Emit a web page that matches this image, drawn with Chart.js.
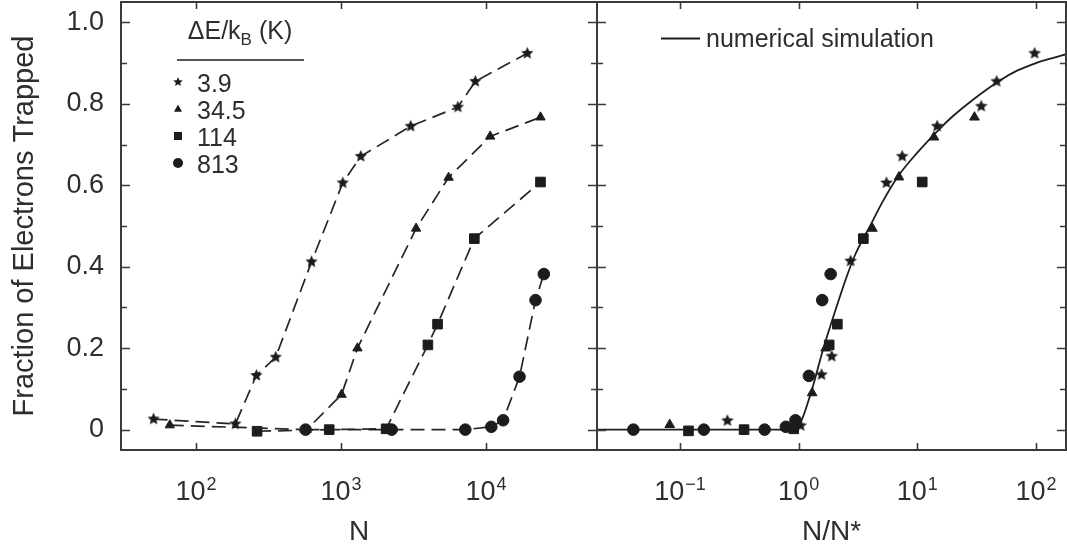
<!DOCTYPE html>
<html><head><meta charset="utf-8">
<script src="https://cdn.jsdelivr.net/npm/chart.js@4.4.1/dist/chart.umd.min.js"></script>
<style>
html,body{margin:0;padding:0;background:#fff;}
#wrap{position:relative;width:1067px;height:550px;overflow:hidden;background:#fff;}
#c1{position:absolute;left:0;top:0;width:600px;height:550px;}
#c2{position:absolute;left:590px;top:0;width:477px;height:550px;}
</style></head><body>
<div id="wrap"><canvas id="c1" width="600" height="550"></canvas><canvas id="c2" width="477" height="550"></canvas></div>
<script>
// ---------- data ----------
const legendTitle = ['ΔE/k', 'B', ' (K)'];
const seriesLabels = ['3.9', '34.5', '114', '813'];
const simLabel = 'numerical simulation';
const yTickValues = [0, 0.2, 0.4, 0.6, 0.8, 1.0];
const yTickLabels = ['0', '0.2', '0.4', '0.6', '0.8', '1.0'];
const leftDecades = [2, 3, 4];
const rightDecades = [-1, 0, 1, 2];
const leftTitle = 'N';
const rightTitle = 'N/N*';
const yTitle = 'Fraction of Electrons Trapped';

// left panel: N vs fraction
const nStar = [51, 187, 261, 355, 627, 1030, 1370, 3030, 6410, 8450, 19300];
const fStar = [0.026, 0.014, 0.133, 0.178, 0.412, 0.606, 0.671, 0.745, 0.792, 0.855, 0.924];
const nTri = [66, 580, 1010, 1300, 3300, 5530, 10700, 23800];
const fTri = [0.011, 0.0, 0.086, 0.20, 0.494, 0.619, 0.72, 0.767];
const nSq = [264, 830, 2050, 3980, 4640, 8320, 23800];
const fSq = [-0.004, 0.0, 0.002, 0.208, 0.259, 0.469, 0.608];
const nCirc = [570, 2240, 7210, 10900, 13150, 17060, 22000, 25100];
const fCirc = [0.0, 0.0, 0.0, 0.007, 0.023, 0.13, 0.318, 0.382];

// right panel: N/N* vs fraction
const rStarX = [0.251, 1.04, 1.56, 1.90, 2.74, 5.5, 7.46, 14.7, 34.6, 46.6, 97.3];
const rStarY = [0.022, 0.01, 0.135, 0.18, 0.414, 0.606, 0.671, 0.745, 0.794, 0.855, 0.924];
const rTriX = [0.082, 0.777, 1.30, 1.69, 4.18, 7.0, 13.8, 30.3];
const rTriY = [0.012, 0.005, 0.09, 0.20, 0.494, 0.62, 0.718, 0.767];
const rSqX = [0.118, 0.347, 0.91, 1.81, 2.12, 3.51, 11.0];
const rSqY = [-0.003, 0.0, 0.002, 0.208, 0.259, 0.469, 0.608];
const rCircX = [0.0405, 0.159, 0.517, 0.78, 0.94, 1.22, 1.58, 1.86];
const rCircY = [0.0, 0.0, 0.0, 0.007, 0.023, 0.132, 0.318, 0.382];
const simX = [0.02, 0.95, 1.05, 1.3, 1.6, 2.0, 2.5, 3.0, 4.0, 5.0, 7.0, 10, 15, 20, 30, 50, 70, 100, 140, 180];
const simY = [0, 0, 0.02, 0.10, 0.195, 0.285, 0.37, 0.43, 0.50, 0.555, 0.625, 0.68, 0.735, 0.77, 0.812, 0.858, 0.882, 0.90, 0.913, 0.922];

// ---------- style ----------
const FF = '"Liberation Sans", Arial, Helvetica, sans-serif';
const TXT = '#2e2e2e';
const INK = '#1c1c1c';
const FRAME = '#3a3a3a';

function starCanvas(R) {
  const s = Math.ceil(R * 2 + 2);
  const c = document.createElement('canvas');
  c.width = s; c.height = s;
  const g = c.getContext('2d');
  g.fillStyle = INK;
  g.beginPath();
  for (let i = 0; i < 10; i++) {
    const r = i % 2 ? R * 0.46 : R;
    const a = -Math.PI / 2 + i * Math.PI / 5;
    g.lineTo(s / 2 + r * Math.cos(a), s / 2 + r * Math.sin(a));
  }
  g.closePath(); g.fill();
  return c;
}
const starL = starCanvas(6.4);
const starR = starCanvas(6.6);
const starLeg = starCanvas(5);

function pts(xs, ys) { return xs.map((x, i) => ({x: x, y: ys[i]})); }

function noPad(s) { s.paddingTop = 0; s.paddingBottom = 0; s.paddingLeft = 0; s.paddingRight = 0; }

function frameTicksPlugin(decades) {
  return {
    id: 'frameTicks',
    afterDatasetsDraw(chart) {
      const {ctx, chartArea: a, scales} = chart;
      const y = scales.y, x = scales.x;
      ctx.save();
      ctx.strokeStyle = FRAME;
      ctx.lineWidth = 1.6;
      ctx.beginPath();
      for (let k = 0; k <= 10; k++) {
        const v = k / 10;
        const py = Math.round(y.getPixelForValue(v)) + 0.5;
        const len = k % 2 === 0 ? 9 : 6;
        ctx.moveTo(a.left, py); ctx.lineTo(a.left + len, py);
        ctx.moveTo(a.right, py); ctx.lineTo(a.right - len, py);
      }
      decades.forEach(d => {
        const px = Math.round(x.getPixelForValue(Math.pow(10, d))) + 0.5;
        ctx.moveTo(px, a.bottom); ctx.lineTo(px, a.bottom - 7);
        ctx.moveTo(px, a.top); ctx.lineTo(px, a.top + 7);
      });
      ctx.stroke();
      ctx.lineWidth = 2;
      ctx.strokeRect(a.left, a.top, a.right - a.left, a.bottom - a.top);
      ctx.fillStyle = TXT;
      ctx.textBaseline = 'alphabetic';
      ctx.textAlign = 'left';
      decades.forEach(d => {
        const px = x.getPixelForValue(Math.pow(10, d));
        const exp = d < 0 ? '\u2212' + Math.abs(d) : String(d);
        ctx.font = '27px ' + FF;
        const w1 = ctx.measureText('10').width;
        ctx.font = '18px ' + FF;
        const w2 = ctx.measureText(exp).width;
        const start = px - (w1 + w2 + 1) / 2;
        ctx.font = '27px ' + FF;
        ctx.fillText('10', start, 500);
        ctx.font = '18px ' + FF;
        ctx.fillText(exp, start + w1 + 1, 490);
      });
      ctx.restore();
    }
  };
}

const leftLegendPlugin = {
  id: 'leftLegend',
  afterDraw(chart) {
    const ctx = chart.ctx;
    ctx.save();
    ctx.fillStyle = TXT;
    ctx.textBaseline = 'alphabetic';
    ctx.textAlign = 'left';
    ctx.font = '25px ' + FF;
    const w1 = ctx.measureText(legendTitle[0]).width;
    const w3 = ctx.measureText(legendTitle[2]).width;
    ctx.font = '17px ' + FF;
    const w2 = ctx.measureText(legendTitle[1]).width;
    let sx = 240 - (w1 + w2 + w3) / 2;
    ctx.font = '25px ' + FF;
    ctx.fillText(legendTitle[0], sx, 39);
    ctx.font = '17px ' + FF;
    ctx.fillText(legendTitle[1], sx + w1, 45);
    ctx.font = '25px ' + FF;
    ctx.fillText(legendTitle[2], sx + w1 + w2, 39);
    ctx.strokeStyle = INK;
    ctx.lineWidth = 1.6;
    ctx.beginPath(); ctx.moveTo(177, 60); ctx.lineTo(304, 60); ctx.stroke();
    const ys = [82, 109, 136, 163];
    const mx = 178;
    ctx.textBaseline = 'middle';
    ctx.font = '25px ' + FF;
    seriesLabels.forEach((lab, i) => {
      ctx.fillText(lab, 197, ys[i] + 3);
    });
    ctx.fillStyle = INK;
    ctx.drawImage(starLeg, mx - starLeg.width / 2, ys[0] - starLeg.height / 2);
    ctx.beginPath();
    ctx.moveTo(mx, ys[1] - 4.5); ctx.lineTo(mx + 4, ys[1] + 2.8); ctx.lineTo(mx - 4, ys[1] + 2.8); ctx.closePath(); ctx.fill();
    ctx.fillRect(mx - 4, ys[2] - 4, 8, 8);
    ctx.beginPath(); ctx.arc(mx, ys[3], 5, 0, Math.PI * 2); ctx.fill();
    ctx.restore();
  }
};

const rightLegendPlugin = {
  id: 'rightLegend',
  afterDraw(chart) {
    const ctx = chart.ctx;
    const off = 590;
    ctx.save();
    ctx.strokeStyle = INK;
    ctx.lineWidth = 1.8;
    ctx.beginPath(); ctx.moveTo(661 - off, 38.5); ctx.lineTo(700 - off, 38.5); ctx.stroke();
    ctx.fillStyle = TXT;
    ctx.font = '25px ' + FF;
    ctx.textBaseline = 'alphabetic';
    ctx.fillText(simLabel, 706 - off, 47);
    ctx.restore();
  }
};

const common = {
  responsive: false,
  animation: false,
  devicePixelRatio: 1,
  plugins: {legend: {display: false}, tooltip: {enabled: false}},
  elements: {line: {tension: 0}}
};

function lineDs(xs, ys, style, radius, img) {
  return {
    data: pts(xs, ys), showLine: true,
    borderColor: '#262626', borderWidth: 1.7, borderDash: [14, 7],
    pointStyle: img || style, pointRadius: radius,
    pointBackgroundColor: INK, pointBorderColor: INK, pointBorderWidth: 1
  };
}

new Chart(document.getElementById('c1'), {
  type: 'scatter',
  data: {datasets: [
    lineDs(nStar, fStar, 'star', 6, starL),
    lineDs(nTri, fTri, 'triangle', 5.4),
    lineDs(nSq, fSq, 'rect', 6.8),
    lineDs(nCirc, fCirc, 'circle', 5.8)
  ]},
  options: Object.assign({}, common, {
    layout: {autoPadding: false, padding: {left: 0, right: 3, top: 2, bottom: 0}},
    scales: {
      x: {
        type: 'logarithmic', min: 30.4, max: 58400,
        grid: {display: false}, border: {display: false},
        ticks: {display: false},
        title: {display: true, text: leftTitle, color: TXT, font: {family: FF, size: 28, lineHeight: 1}, padding: {top: 0, bottom: 4}},
        afterFit(s) { s.height = 100; noPad(s); }
      },
      y: {
        type: 'linear', min: -0.05, max: 1.05,
        grid: {display: false, drawTicks: false}, border: {display: false},
        afterBuildTicks(s) { s.ticks = yTickValues.map(v => ({value: v})); },
        ticks: {
          color: TXT, font: {family: FF, size: 27}, padding: 17,
          callback(v) { const i = yTickValues.indexOf(v); return i >= 0 ? yTickLabels[i] : ''; }
        },
        title: {display: true, text: yTitle, color: TXT, font: {family: FF, size: 29, lineHeight: 1}, padding: {top: 10, bottom: 0}},
        afterFit(s) { s.width = 121; noPad(s); }
      }
    }
  }),
  plugins: [frameTicksPlugin(leftDecades), leftLegendPlugin]
});

function ptDs(xs, ys, style, radius, img) {
  return {
    data: pts(xs, ys), showLine: false,
    pointStyle: img || style, pointRadius: radius,
    pointBackgroundColor: INK, pointBorderColor: INK, pointBorderWidth: 1, order: 1
  };
}

new Chart(document.getElementById('c2'), {
  type: 'scatter',
  data: {datasets: [
    ptDs(rStarX, rStarY, 'star', 6, starR),
    ptDs(rTriX, rTriY, 'triangle', 5.6),
    ptDs(rSqX, rSqY, 'rect', 6.8),
    ptDs(rCircX, rCircY, 'circle', 5.8),
    {data: pts(simX, simY), showLine: true, pointRadius: 0, borderColor: '#1e1e1e', borderWidth: 1.8,
     cubicInterpolationMode: 'monotone', order: 10}
  ]},
  options: Object.assign({}, common, {
    layout: {autoPadding: false, padding: {left: 7, right: 1, top: 2, bottom: 0}},
    scales: {
      x: {
        type: 'logarithmic', min: 0.02, max: 179,
        grid: {display: false}, border: {display: false},
        ticks: {display: false},
        title: {display: true, text: rightTitle, color: TXT, font: {family: FF, size: 28, lineHeight: 1}, padding: {top: 0, bottom: 4}},
        afterFit(s) { s.height = 100; noPad(s); }
      },
      y: {
        type: 'linear', min: -0.05, max: 1.05,
        grid: {display: false, drawTicks: false}, border: {display: false},
        ticks: {display: false},
        afterFit(s) { s.width = 0; noPad(s); }
      }
    }
  }),
  plugins: [frameTicksPlugin(rightDecades), rightLegendPlugin]
});
</script>
</body></html>
